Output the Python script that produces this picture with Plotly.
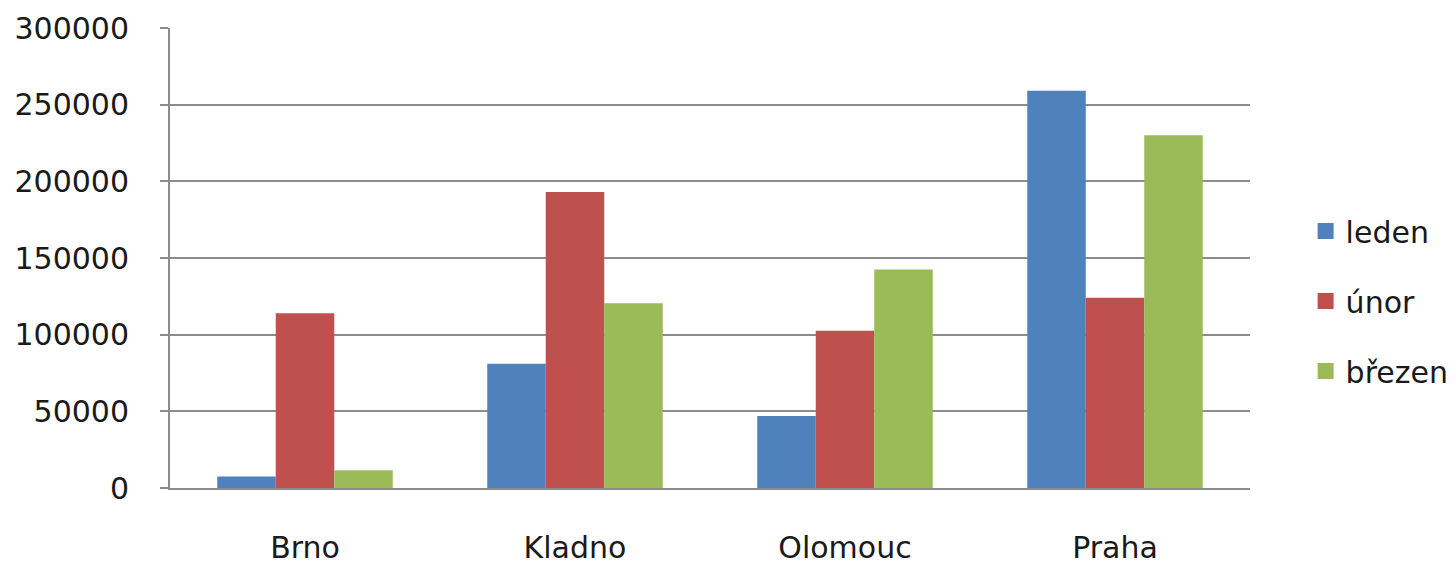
import plotly.graph_objects as go

categories = ["Brno", "Kladno", "Olomouc", "Praha"]
leden = [7500, 81000, 47000, 259000]
unor = [114000, 193000, 102500, 124000]
brezen = [11500, 120500, 142500, 230000]
series_names = ["leden", "únor", "březen"]
colors = ["#4F81BD", "#C0504D", "#9BBB59"]
tick_vals = [0, 50000, 100000, 150000, 200000, 250000, 300000]
tick_text = ["0", "50000", "100000", "150000", "200000", "250000", "300000"]

fig = go.Figure()
for name, vals, col in zip(series_names, [leden, unor, brezen], colors):
    fig.add_trace(go.Bar(x=categories, y=vals, name=name, marker_color=col,
                         marker_line_width=0, legendgroup=name, showlegend=False))
    # legend-only entry with a larger square swatch
    fig.add_trace(go.Scatter(x=[None], y=[None], mode="markers", name=name,
                             legendgroup=name, showlegend=True,
                             marker=dict(symbol="square", size=16, color=col)))

font_family = "DejaVu Sans, Verdana, sans-serif"
fig.update_layout(
    width=1456, height=565,
    margin=dict(l=162, r=214, t=20, b=85, autoexpand=False),
    paper_bgcolor="white", plot_bgcolor="white",
    barmode="group", bargap=0.35, bargroupgap=0,
    font=dict(family=font_family, size=30, color="#1a1a1a"),
    showlegend=True,
    legend=dict(x=1.0515, y=0.4065, xanchor="left", yanchor="middle",
                font=dict(size=30), tracegroupgap=28, itemwidth=30),
    xaxis=dict(showgrid=False, showline=True, linecolor="#8c8c8c", linewidth=2,
               ticks="", tickfont=dict(size=30), ticklabelstandoff=32,
               automargin=False),
    yaxis=dict(range=[0, 300000], tickvals=tick_vals, ticktext=tick_text,
               showgrid=True, gridcolor="#8c8c8c", gridwidth=2,
               showline=True, linecolor="#8c8c8c", linewidth=2,
               ticks="outside", ticklen=8, tickcolor="#8c8c8c", tickwidth=2,
               ticklabelstandoff=25, zeroline=False, tickfont=dict(size=30),
               automargin=False),
)
fig.write_html("out.html")
